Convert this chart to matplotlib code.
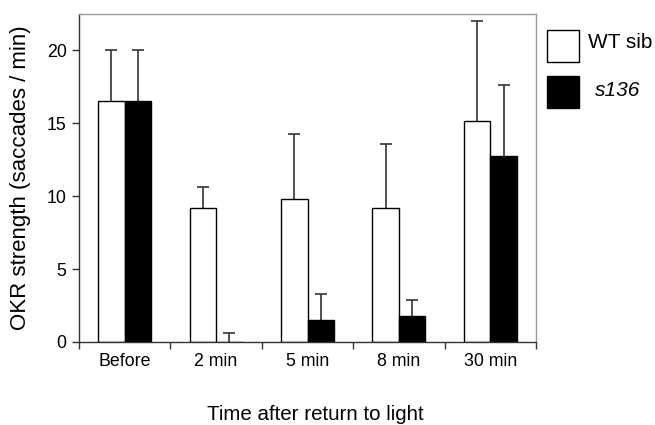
import matplotlib
matplotlib.use("Agg")
import matplotlib.pyplot as plt
import numpy as np
from matplotlib.patches import Rectangle

categories = ["Before", "2 min", "5 min", "8 min", "30 min"]
wt_values = [16.5, 9.2, 9.8, 9.2, 15.15]
wt_err = [3.5, 1.45, 4.5, 4.35, 6.9]
s136_values = [16.5, 0.0, 1.5, 1.8, 12.75]
s136_err = [3.5, 0.6, 1.8, 1.05, 4.9]
series_names = ["WT sib", "s136"]

plt.rcParams['font.family'] = ['Liberation Sans', 'DejaVu Sans']

W, H = 655, 425
fig = plt.figure(figsize=(W/100, H/100), dpi=100)
ax = fig.add_axes([79/W, 1 - 342/H, (536-79)/W, (342-14)/H])

x = np.arange(len(categories))
w = 0.29
wt_x = x - w/2
s_x = x + w/2
wt_top = np.array(wt_values) + np.array(wt_err)
s_top = np.array(s136_values) + np.array(s136_err)

ax.bar(wt_x, wt_values, w, color='white', edgecolor='black', linewidth=1.0, zorder=2)
ax.bar(s_x, s136_values, w, color='black', edgecolor='black', linewidth=1.0, zorder=2)
for xs, base, top in [(wt_x, wt_values, wt_top), (s_x, s136_values, s_top)]:
    ax.vlines(xs, base, top, color='#333333', linewidth=1.2, zorder=1)
    ax.plot(xs, top, linestyle='none', marker='_', markersize=9, markeredgewidth=1.2,
            color='#333333', zorder=1)

ax.set_xlim(-0.5, 4.5)
ax.set_ylim(0, 22.5)
ax.set_yticks([0, 5, 10, 15, 20])
ax.set_xticks(np.arange(-0.5, 5.0, 1.0))
ax.set_xticklabels([])
ax.set_xticks(x, minor=True)
ax.set_xticklabels(categories, minor=True, fontsize=12.8)
ax.tick_params(axis='x', which='minor', length=0, pad=8)
ax.tick_params(axis='x', which='major', length=5, width=1, color='#333333', direction='out')
ax.tick_params(axis='y', length=5, width=1, color='#333333', labelsize=12.8, pad=4)

for s in ['left', 'bottom']:
    ax.spines[s].set_color('#333333')
    ax.spines[s].set_linewidth(1.0)
for s in ['top', 'right']:
    ax.spines[s].set_color('#999999')
    ax.spines[s].set_linewidth(1.0)

ax.set_ylabel("OKR strength (saccades / min)", fontsize=16, labelpad=11)
fig.text(315/W, 1 - 414/H, "Time after return to light", fontsize=14.8,
         ha='center', va='center')

# legend drawn manually outside the axes
leg_boxes = [(547, 30, 'white'), (547, 75.5, 'black')]
leg_text_pos = [(588, 43), (595, 91)]
for (bx, by, fc), name, (tx, ty), style in zip(leg_boxes, series_names, leg_text_pos,
                                                ['normal', 'italic']):
    fig.patches.append(Rectangle((bx/W, 1 - (by+32)/H), 32/W, 32/H, transform=fig.transFigure,
                                 facecolor=fc, edgecolor='black', linewidth=1.0))
    fig.text(tx/W, 1 - ty/H, name, fontsize=15, fontstyle=style, ha='left', va='center')

fig.savefig("out.png", dpi=100)
